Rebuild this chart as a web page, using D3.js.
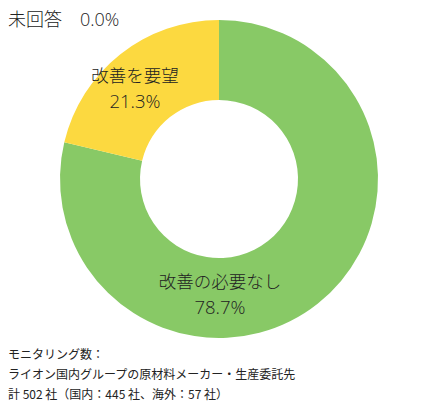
<!doctype html>
<html lang="ja">
<head>
<meta charset="utf-8">
<title>改善要望</title>
<script src="https://d3js.org/d3.v7.min.js"></script>
<style>
  body { margin: 0; background: #fff; }
  text { font-family: "Noto Sans CJK JP", "Noto Sans", sans-serif; fill: #222; }
  .big { font-family: "Open Sans", "Noto Sans CJK JP", sans-serif; font-weight: 300; }
</style>
</head>
<body>
<div id="chart"></div>
<script>
  // data
  var categories = ["改善の必要なし", "改善を要望", "未回答"];
  var shares = [78.7, 21.3, 0.0];
  var colours = ["#88c966", "#fcd940", "#cccccc"];
  var notes = ["モニタリング数：",
               "ライオン国内グループの原材料メーカー・生産委託先",
               "計 502 社（国内：445 社、海外：57 社）"];

  var width = 432, height = 410;
  var cx = 219, cy = 179, outerR = 159, innerR = 79;

  var svg = d3.select("#chart").append("svg")
    .attr("width", width)
    .attr("height", height);

  var pie = d3.pie().sort(null).value(function(d) { return d; });
  var arcs = pie(shares);
  var arc = d3.arc().innerRadius(innerR).outerRadius(outerR);

  var g = svg.append("g").attr("transform", "translate(" + cx + "," + cy + ")");

  g.selectAll("path")
    .data(arcs)
    .enter().append("path")
    .attr("d", arc)
    .attr("fill", function(d, i) { return colours[i]; });

  // labels inside slices (green near bottom, yellow upper-left)
  var lab = [
    { x: 1, y: 109 },
    { x: -84, y: -97 }
  ];
  lab.forEach(function(p, i) {
    g.append("text")
      .attr("class", "big")
      .attr("x", p.x).attr("y", p.y)
      .attr("text-anchor", "middle")
      .attr("font-size", "17.5px")
      .text(categories[i]);
    g.append("text")
      .attr("class", "big")
      .attr("x", p.x).attr("y", p.y + 26)
      .attr("text-anchor", "middle")
      .attr("font-size", "18.5px")
      .text(shares[i].toFixed(1) + "%");
  });

  // unanswered label at top left
  svg.append("text")
    .attr("class", "big")
    .attr("x", 8).attr("y", 26)
    .attr("font-size", "18px")
    .text(categories[2] + "\u3000" + shares[2].toFixed(1) + "%");

  // footnotes
  notes.forEach(function(t, i) {
    svg.append("text")
      .attr("x", 8).attr("y", 359 + i * 20)
      .attr("font-size", "12px")
      .text(t);
  });
</script>
</body>
</html>
